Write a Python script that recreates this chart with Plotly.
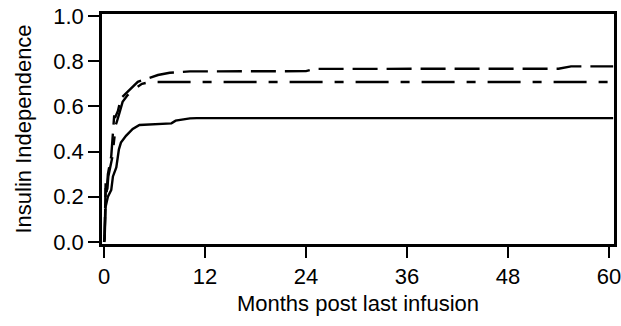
import plotly.graph_objects as go

# Months post last infusion and insulin independence
solid_x = [0, 0.06, 0.18, 0.45, 0.85, 1.05, 1.45, 1.76, 2.0, 2.6, 3.4, 4.2, 8.0, 8.5, 10.2, 11.0, 60.5]
solid_y = [0, 0.01, 0.156, 0.20, 0.23, 0.29, 0.33, 0.41, 0.44, 0.47, 0.50, 0.518, 0.525, 0.537, 0.547, 0.548, 0.548]

dash_x = [0, 0.06, 0.18, 0.3, 0.45, 0.85, 1.2, 1.3, 1.64, 2.0, 2.6, 3.2, 4.0, 5.2, 6.4, 7.8, 10.2, 24.0, 25.0, 54.0, 55.5, 60.5]
dash_y = [0, 0.02, 0.26, 0.22, 0.30, 0.38, 0.56, 0.55, 0.58, 0.636, 0.658, 0.68, 0.709, 0.724, 0.739, 0.749, 0.755, 0.756, 0.766, 0.767, 0.777, 0.777]

dashdot_x = [0, 0.06, 0.2, 0.35, 0.5, 0.95, 1.4, 1.5, 1.85, 2.2, 2.8, 3.5, 4.5, 5.5, 60.5]
dashdot_y = [0, 0.03, 0.25, 0.22, 0.29, 0.37, 0.52, 0.53, 0.575, 0.62, 0.65, 0.675, 0.70, 0.708, 0.708]

x_ticks = [0, 12, 24, 36, 48, 60]
y_ticks = [0.0, 0.2, 0.4, 0.6, 0.8, 1.0]

fig = go.Figure()
fig.add_trace(go.Scatter(x=solid_x, y=solid_y, mode="lines",
                         line=dict(color="black", width=2.4)))
fig.add_trace(go.Scatter(x=dashdot_x, y=dashdot_y, mode="lines",
                         line=dict(color="black", width=2.4, dash="33px,12px,9px,12px")))
fig.add_trace(go.Scatter(x=dash_x, y=dash_y, mode="lines",
                         line=dict(color="black", width=2.4, dash="25px,9px")))

font_family = "Liberation Sans, Arial, sans-serif"
fig.update_layout(
    width=621, height=326,
    margin=dict(l=102, r=7, t=14, b=82),
    paper_bgcolor="white", plot_bgcolor="white",
    showlegend=False,
    font=dict(family=font_family, color="black", size=22),
    xaxis=dict(
        range=[-0.25, 60.6], tickvals=x_ticks, ticktext=[str(v) for v in x_ticks],
        showline=True, mirror=True, linecolor="black", linewidth=2.5,
        ticks="outside", ticklen=11, tickwidth=2, tickcolor="black",
        showgrid=False, zeroline=False, automargin=False,
        ticklabeloverflow="allow",
        title=dict(text="Months post last infusion", font=dict(size=22), standoff=8),
        tickfont=dict(size=22),
    ),
    yaxis=dict(
        range=[-0.009, 1.009], tickvals=y_ticks, ticktext=[f"{v:.1f}" for v in y_ticks],
        showline=True, mirror=True, linecolor="black", linewidth=2.5,
        ticks="outside", ticklen=11, tickwidth=2, tickcolor="black",
        showgrid=False, zeroline=False, automargin=False,
        ticklabeloverflow="allow",
        title=dict(text="Insulin Independence", font=dict(size=22), standoff=16),
        tickfont=dict(size=22),
    ),
)

fig.write_html("out.html", config={"displayModeBar": False},
               post_script="document.body.style.margin='0';document.body.style.overflow='hidden';")
